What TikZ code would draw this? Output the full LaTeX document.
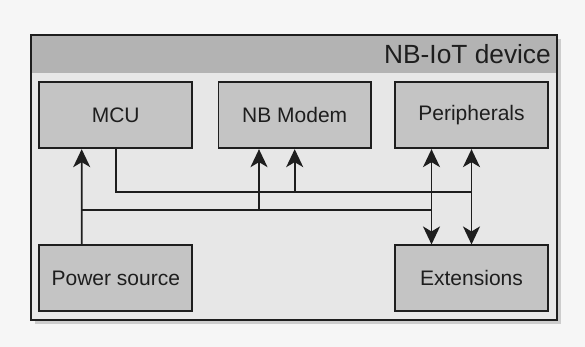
\documentclass[tikz,border=0pt]{standalone}
\usepackage{fontspec}
\setmainfont{Liberation Sans}
\usetikzlibrary{arrows.meta}
\definecolor{pagebg}{HTML}{F6F6F6}
\definecolor{framebg}{HTML}{E7E7E7}
\definecolor{headbg}{HTML}{B3B3B3}
\definecolor{boxbg}{HTML}{C4C4C4}
\definecolor{shadowc}{HTML}{CDCDCD}
\definecolor{ink}{HTML}{1E1E1E}
\tikzset{
  blockbox/.style={draw=ink, line width=1.7pt, fill=boxbg, minimum width=153pt, minimum height=66pt,
    inner sep=0pt, font=\fontsize{21}{25}\selectfont, text=ink},
  wire/.style={draw=ink, line width=1.7pt},
  arr/.style={wire, -{Stealth[length=18pt,width=17pt,inset=5pt]}},
  darr/.style={wire, {Stealth[length=18pt,width=17pt,inset=5pt]}-{Stealth[length=18pt,width=17pt,inset=5pt]}}
}
\begin{document}
\begin{tikzpicture}[x=1pt,y=-1pt]
\useasboundingbox[fill=pagebg] (0,0) rectangle (585,347);
% shadow and frame
\fill[shadowc] (35,39) rectangle (561,324);
\fill[framebg] (30.7,34.7) rectangle (556.7,320);
\fill[headbg] (30.7,34.7) rectangle (556.7,72.7);
\draw[ink, line width=1.7pt] (30.7,34.7) rectangle (556.7,320);
\node[anchor=base east, inner sep=0pt, font=\fontsize{26.3}{30}\selectfont, text=ink] (title) at (551,64) {NB-IoT device};
% blocks
\node[blockbox] (mcu) at (115.7,115.3) {MCU};
\node[blockbox, minimum width=152.7pt] (modem) at (294.7,115.3) {NB Modem};
\node[blockbox] (peri) at (471.5,115.3) {Peripherals};
\node[blockbox] (pwr) at (115.8,278.3) {Power source};
\node[blockbox] (ext) at (471.5,278.3) {Extensions};
% bus coordinates
\coordinate (busA) at (471.5,192.3);
\coordinate (busB) at (431.5,209.7);
% MCU data bus
\draw[wire] (mcu.south) |- (busA);
\draw[arr] (modem.south |- busA) -- (modem.south);
% power bus
\draw[arr] ([xshift=-34pt]pwr.north) -- ([xshift=-34pt]mcu.south);
\draw[wire] ([xshift=-34pt]pwr.north |- busB) -- (busB);
\draw[arr] ([xshift=-35.7pt]modem.south |- busB) -- ([xshift=-35.7pt]modem.south);
% peripherals <-> extensions
\draw[darr] ([xshift=-40pt]peri.south) -- ([xshift=-40pt]ext.north);
\draw[darr] (peri.south) -- (ext.north);
\end{tikzpicture}
\end{document}
